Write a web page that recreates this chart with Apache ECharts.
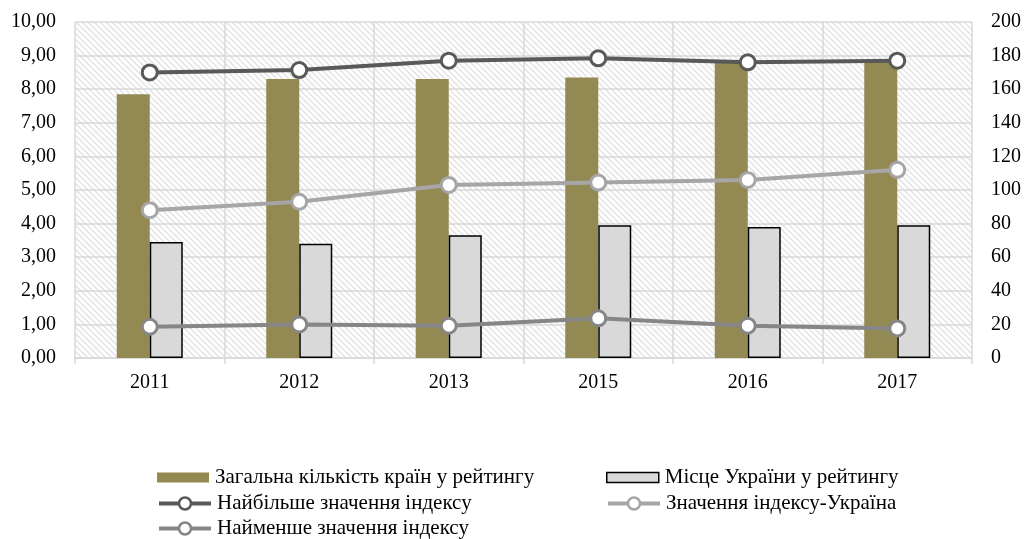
<!DOCTYPE html>
<html>
<head>
<meta charset="utf-8">
<script src="https://cdn.jsdelivr.net/npm/echarts@6/dist/echarts.min.js"></script>
<style>
  html, body { margin: 0; padding: 0; background: #fff; }
  #main { width: 1024px; height: 539px; }
</style>
</head>
<body>
<div id="main"></div>
<script>
// дані
var years = ['2011', '2012', '2013', '2015', '2016', '2017'];
var totalCountries = [157, 166, 166, 167, 176, 177];   // права вісь
var ukrainePlace = [69, 68, 73, 79, 78, 79];           // права вісь
var maxIndex = [8.50, 8.57, 8.85, 8.92, 8.80, 8.85];   // ліва вісь
var ukraineIndex = [4.40, 4.65, 5.15, 5.22, 5.30, 5.60];
var minIndex = [0.93, 1.00, 0.96, 1.18, 0.96, 0.88];

var names = [
  'Загальна кількість країн у рейтингу',
  'Місце України у рейтингу',
  'Найбільше значення індексу',
  'Значення індексу-Україна',
  'Найменше значення індексу'
];

var font = 'Liberation Serif';

// штрихування фону
var pat = document.createElement('canvas');
pat.width = 6; pat.height = 6;
var ctx = pat.getContext('2d');
ctx.fillStyle = '#fff';
ctx.fillRect(0, 0, 6, 6);
ctx.strokeStyle = '#e3e3e3';
ctx.lineWidth = 1.5;
ctx.beginPath();
ctx.moveTo(-2, -2); ctx.lineTo(8, 8);
ctx.moveTo(-2, 4); ctx.lineTo(2, 8);
ctx.moveTo(4, -2); ctx.lineTo(8, 2);
ctx.stroke();

function lineSeries(name, data, color) {
  return {
    name: name,
    type: 'line',
    yAxisIndex: 0,
    data: data,
    symbol: 'circle',
    symbolSize: 15,
    lineStyle: { color: color, width: 4 },
    itemStyle: { color: '#fff', borderColor: color, borderWidth: 3 },
    z: 5
  };
}

// легенда: кожен пункт окремо
var legendPos = [
  { left: 157, top: 478, bar: true },
  { left: 606, top: 478, bar: true },
  { left: 157, top: 504, bar: false },
  { left: 606, top: 504, bar: false },
  { left: 157, top: 529, bar: false }
];
var legends = names.map(function (n, i) {
  var p = legendPos[i];
  var h = p.bar ? 10 : 15;
  return {
    data: [{ name: n, icon: p.bar ? 'rect' : undefined }],
    left: p.left,
    top: p.top - 11,
    height: 22,
    itemWidth: 52,
    itemHeight: h,
    itemGap: 0,
    padding: 0,
    selectedMode: false,
    lineStyle: { width: 4 },
    itemStyle: { borderWidth: p.bar ? 'inherit' : 2.5 },
    textStyle: { fontFamily: font, fontSize: 21, color: '#000', padding: [0, 0, 0, 1] }
  };
});

var option = {
  animation: false,
  backgroundColor: '#fff',
  textStyle: { fontFamily: font },
  grid: {
    show: true,
    left: 75,
    right: 51,
    top: 22,
    bottom: 181,
    borderWidth: 0,
    backgroundColor: { image: pat, repeat: 'repeat' }
  },
  legend: legends,
  xAxis: {
    type: 'category',
    data: years,
    axisLine: { lineStyle: { color: '#d9d9d9', width: 1.5 } },
    axisTick: { show: true, length: 6, lineStyle: { color: '#d9d9d9', width: 1.5 } },
    splitLine: { show: true, lineStyle: { color: '#d9d9d9', width: 1.5 } },
    axisLabel: { fontFamily: font, fontSize: 20, color: '#000', margin: 15 }
  },
  yAxis: [
    {
      type: 'value',
      min: 0, max: 10, interval: 1,
      axisLine: { show: false },
      axisTick: { show: false },
      splitLine: { show: true, lineStyle: { color: '#d9d9d9', width: 1.5 } },
      axisLabel: {
        fontFamily: font, fontSize: 20, color: '#000', margin: 19,
        formatter: function (v) { return v.toFixed(2).replace('.', ','); }
      }
    },
    {
      type: 'value',
      min: 0, max: 200, interval: 20,
      axisLine: { show: false },
      axisTick: { show: false },
      splitLine: { show: false },
      axisLabel: { fontFamily: font, fontSize: 20, color: '#000', margin: 19 }
    }
  ],
  series: [
    {
      name: names[0],
      type: 'bar',
      yAxisIndex: 1,
      data: totalCountries,
      barWidth: 33,
      barGap: '0%',
      itemStyle: { color: '#938953' }
    },
    {
      name: names[1],
      type: 'bar',
      yAxisIndex: 1,
      data: ukrainePlace,
      barWidth: 33,
      barGap: '0%',
      itemStyle: { color: '#d9d9d9', borderColor: '#000', borderWidth: 1.5 }
    },
    lineSeries(names[2], maxIndex, '#595959'),
    lineSeries(names[3], ukraineIndex, '#a6a6a6'),
    lineSeries(names[4], minIndex, '#868686')
  ]
};

var myChart = echarts.init(document.getElementById('main'));
myChart.setOption(option);
</script>
</body>
</html>
